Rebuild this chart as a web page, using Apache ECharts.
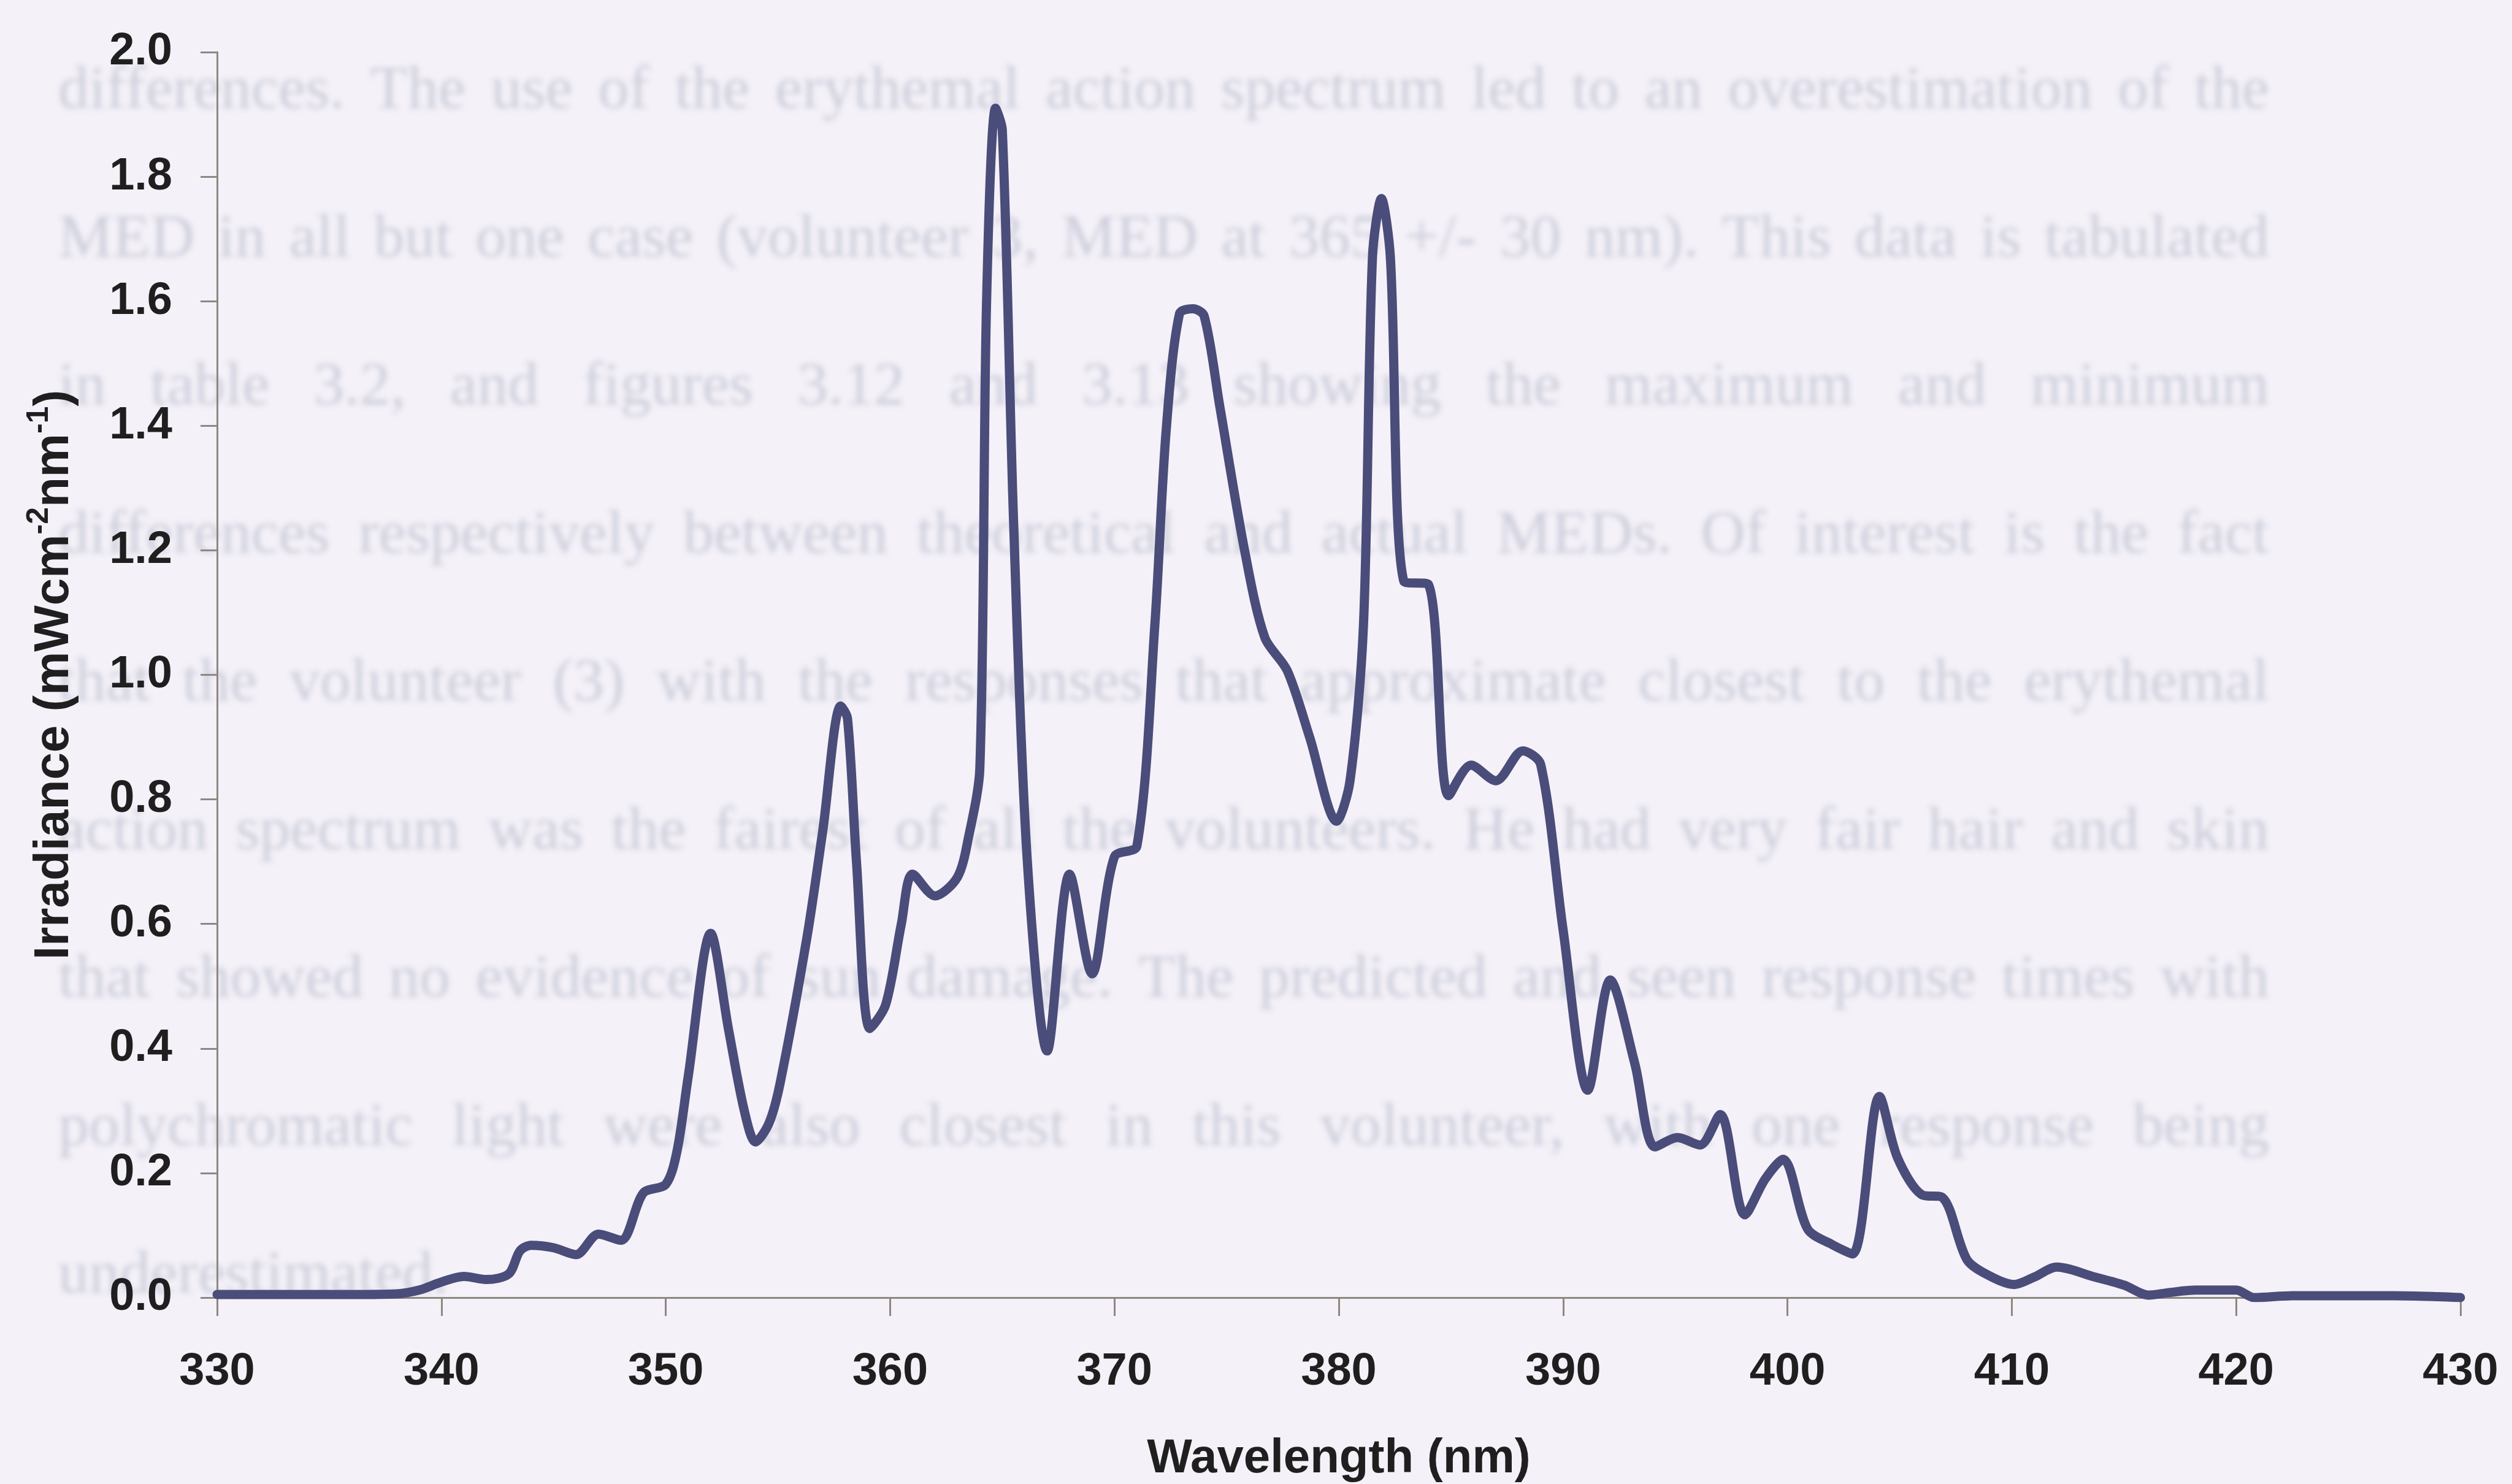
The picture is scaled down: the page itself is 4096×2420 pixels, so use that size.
<!DOCTYPE html>
<html>
<head>
<meta charset="utf-8">
<script src="https://cdn.jsdelivr.net/npm/echarts@6/dist/echarts.min.js"></script>
<style>
  html, body { margin: 0; padding: 0; background: #f5f1f8; }
  #page, #chart { position: absolute; left: 0; top: 0; width: 4096px; height: 2420px; }
  #page { filter: blur(5px); }
</style>
</head>
<body>
<div id="page"></div>
<div id="chart"></div>
<script>
// Spectral irradiance of the source (nm vs mW cm^-2 nm^-1)
const wavelength = [
  330, 332, 334, 336, 338, 339, 340, 341, 342, 343, 343.5, 344, 345, 346, 347, 348, 349, 350,
  350.5, 351, 352, 352.8, 353.5, 354, 354.6, 355.1, 356.3, 357, 357.8, 358.1, 358.5, 359.1,
  359.8, 360.5, 361, 362, 363, 363.5, 364, 364.3, 364.7, 365, 365.5, 366.1, 367, 368, 369, 370,
  371, 371.8, 372.3, 372.9, 373.5, 374, 374.7, 375.8, 376.7, 377.7, 378.7, 379.9, 380.5, 381.1,
  381.5, 381.9, 382.3, 382.9, 384, 384.9, 385.9, 387, 388.2, 389, 390, 391.1, 392.1, 393.2,
  394.1, 395.1, 396.1, 397, 398.1, 399, 399.8, 400.9, 402, 402.9, 404.1, 404.9, 406, 406.9,
  408, 409, 410.1, 411, 412, 413.7, 415, 416.1, 417, 418.2, 420, 420.8, 422.5, 425, 427, 429, 430
];
const irradiance = [
  0.005, 0.005, 0.005, 0.005, 0.006, 0.012, 0.025, 0.034, 0.029, 0.038, 0.075, 0.084, 0.08, 0.069, 0.102, 0.092, 0.168, 0.182,
  0.235, 0.355, 0.585, 0.43, 0.30, 0.25, 0.28, 0.345, 0.58, 0.75, 0.95, 0.93, 0.70, 0.432,
  0.47, 0.60, 0.68, 0.645, 0.675, 0.74, 0.85, 1.6, 1.91, 1.875, 1.25, 0.71, 0.396, 0.68, 0.52, 0.708,
  0.725, 1.08, 1.39, 1.58, 1.588, 1.576, 1.43, 1.2, 1.06, 1.007, 0.9, 0.765, 0.83, 1.08,
  1.67, 1.765, 1.67, 1.15, 1.145, 0.806, 0.855, 0.83, 0.878, 0.856, 0.59, 0.333, 0.51, 0.375,
  0.242, 0.257, 0.245, 0.294, 0.133, 0.19, 0.222, 0.11, 0.085, 0.07, 0.323, 0.225, 0.165, 0.161,
  0.061, 0.035, 0.021, 0.033, 0.049, 0.033, 0.02, 0.004, 0.008, 0.012, 0.012, 0.0, 0.003, 0.003, 0.003, 0.0015, 0.0
];

// Axis ranges
const xRange = [330, 430];
const xStep = 10;
const yRange = [0, 2];
const yStep = 0.2;

// Printed page text showing faintly behind the figure
const pageLines = [
  'differences.  The use of the erythemal action spectrum led to an overestimation of the',
  'MED in all but one case (volunteer 3, MED at 365 +/- 30 nm).  This data is tabulated',
  'in table 3.2, and figures 3.12 and 3.13 showing the maximum and minimum',
  'differences respectively between theoretical and actual MEDs.  Of interest is the fact',
  'that the volunteer (3) with the responses that approximate closest to the erythemal',
  'action spectrum was the fairest of all the volunteers.  He had very fair hair and skin',
  'that showed no evidence of sun damage.  The predicted and seen response times with',
  'polychromatic light were also closest in this volunteer, with one response being',
  'underestimated.'
];

const SANS = '"Liberation Sans", Arial, sans-serif';
const SERIF = '"Liberation Serif", "Times New Roman", serif';

// ---- faint page text layer (justified lines) ----
(function drawPage() {
  const fontSize = 100;
  const left = 95, right = 3700, firstMid = 150, lineGap = 241.5;
  const ctx = document.createElement('canvas').getContext('2d');
  ctx.font = fontSize + 'px ' + SERIF;
  const elements = [];
  pageLines.forEach((line, i) => {
    const words = line.split(/\s+/);
    const widths = words.map(w => ctx.measureText(w).width);
    const total = widths.reduce((a, b) => a + b, 0);
    const last = i === pageLines.length - 1;
    const gap = last ? ctx.measureText(' ').width : (right - left - total) / (words.length - 1);
    let x = left;
    const y = firstMid + i * lineGap;
    words.forEach((w, k) => {
      elements.push({
        type: 'text', x: x, y: y, silent: true,
        style: { text: w, fontSize: fontSize, fontFamily: SERIF, fill: '#cbcedb', verticalAlign: 'middle', align: 'left' }
      });
      x += widths[k] + gap;
    });
  });
  const page = echarts.init(document.getElementById('page'), null, { renderer: 'canvas' });
  page.setOption({ backgroundColor: 'transparent', animation: false, graphic: { elements: elements } });
})();

// ---- chart ----
const axisGray = '#8d8882';
const labelColor = '#1f1f1f';
const chart = echarts.init(document.getElementById('chart'), null, { renderer: 'canvas' });
chart.setOption({
  backgroundColor: 'transparent',
  animation: false,
  grid: { left: 354, right: 84, top: 85, bottom: 304, containLabel: false, outerBoundsMode: 'none' },
  xAxis: {
    type: 'value', min: xRange[0], max: xRange[1], interval: xStep,
    name: 'Wavelength (nm)', nameLocation: 'middle', nameGap: 224,
    nameTextStyle: { fontFamily: SANS, fontWeight: 'bold', fontSize: 78, color: labelColor },
    axisLine: { show: true, onZero: false, lineStyle: { color: axisGray, width: 3 } },
    axisTick: { show: true, inside: false, length: 30, lineStyle: { color: axisGray, width: 3 } },
    axisLabel: { margin: 85, fontFamily: SANS, fontWeight: 'bold', fontSize: 74, color: labelColor },
    splitLine: { show: false }
  },
  yAxis: {
    type: 'value', min: yRange[0], max: yRange[1], interval: yStep,
    name: 'Irradiance (mWcm{sup|-2}nm{sup|-1})', nameLocation: 'middle', nameGap: 215, nameRotate: 90,
    nameTextStyle: {
      fontFamily: SANS, fontWeight: 'bold', fontSize: 80, color: labelColor, lineHeight: 100,
      rich: { sup: { fontFamily: SANS, fontWeight: 'bold', fontSize: 50, color: labelColor, verticalAlign: 'top', lineHeight: 100 } }
    },
    axisLine: { show: true, lineStyle: { color: axisGray, width: 3 } },
    axisTick: { show: true, inside: false, length: 27, lineStyle: { color: axisGray, width: 3 } },
    axisLabel: { margin: 73, fontFamily: SANS, fontWeight: 'bold', fontSize: 74, color: labelColor,
      formatter: v => v.toFixed(1) },
    splitLine: { show: false }
  },
  series: [{
    type: 'line',
    data: wavelength.map((w, i) => [w, irradiance[i]]),
    showSymbol: false,
    smooth: 0.3,
    lineStyle: { color: '#4a4d7a', width: 15, join: 'round', cap: 'round' },
    z: 3
  }]
});
</script>
</body>
</html>
